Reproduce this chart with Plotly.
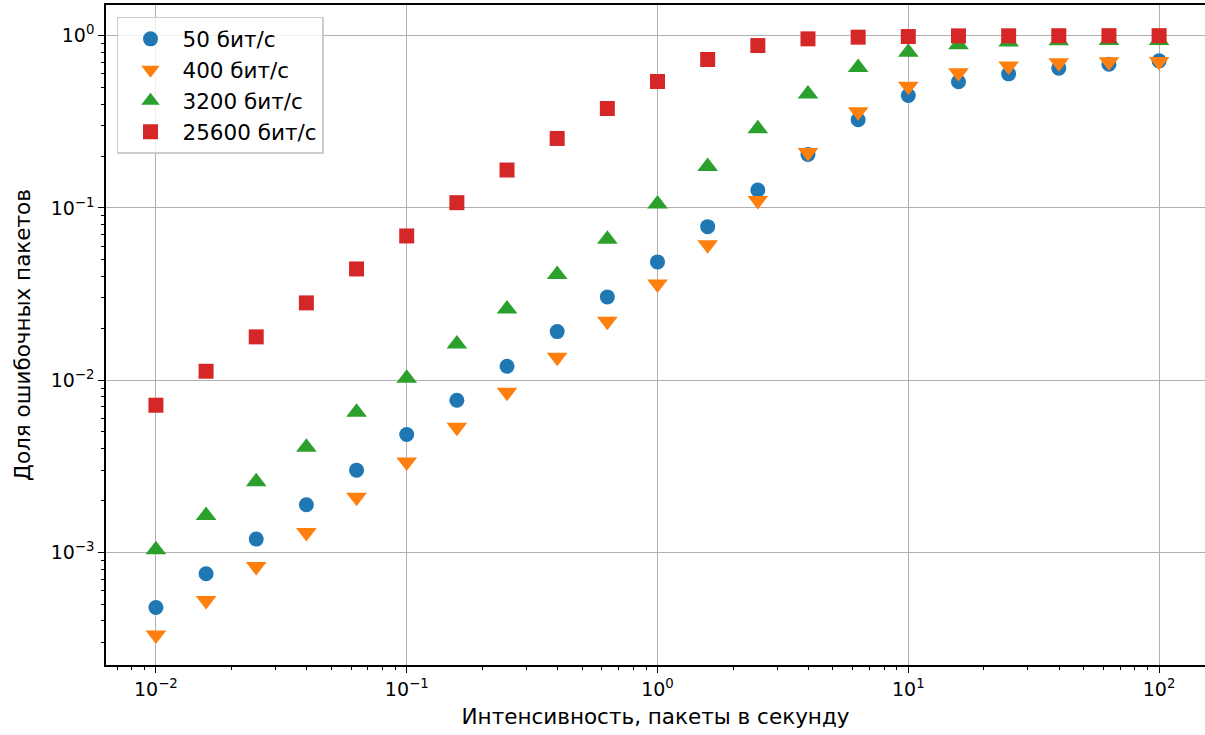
import plotly.graph_objects as go

# ---- data ----
intensity = [0.01, 0.01585, 0.02512, 0.03981, 0.0631, 0.1, 0.1585, 0.2512, 0.3981, 0.631,
             1.0, 1.585, 2.512, 3.981, 6.31, 10.0, 15.85, 25.12, 39.81, 63.1, 100.0]

err_50 = [0.000478, 0.000752, 0.001194, 0.001891, 0.003002, 0.004835, 0.007645, 0.01204,
          0.01913, 0.03042, 0.04856, 0.0778, 0.127, 0.2043, 0.3249, 0.4493, 0.5395,
          0.6003, 0.6478, 0.6834, 0.7142]
err_400 = [0.000331, 0.000525, 0.000827, 0.001306, 0.00209, 0.003349, 0.005323, 0.008494,
           0.01356, 0.02194, 0.03609, 0.06115, 0.1104, 0.2096, 0.3614, 0.5078, 0.61,
           0.6664, 0.6972, 0.7047, 0.7076]
err_3200 = [0.001034, 0.001635, 0.002574, 0.004075, 0.006503, 0.01024, 0.0162, 0.02585,
            0.04098, 0.06585, 0.1055, 0.174, 0.288, 0.4577, 0.6531, 0.8, 0.887, 0.918,
            0.935, 0.937, 0.938]
err_25600 = [0.00715, 0.01126, 0.01783, 0.02808, 0.0442, 0.0687, 0.1072, 0.1659, 0.253,
             0.3777, 0.5418, 0.7269, 0.8762, 0.9582, 0.98, 0.988, 0.997, 0.998, 0.999,
             1.0, 1.0]

series_names = ["50 бит/с", "400 бит/с", "3200 бит/с", "25600 бит/с"]

x_tickvals = [0.01, 0.1, 1, 10, 100]
x_ticktext = ["10<sup>−2</sup>", "10<sup>−1</sup>", "10<sup>0</sup>", "10<sup>1</sup>", "10<sup>2</sup>"]
y_tickvals = [0.001, 0.01, 0.1, 1]
y_ticktext = ["10<sup>−3</sup>", "10<sup>−2</sup>", "10<sup>−1</sup>", "10<sup>0</sup>"]

x_title = "Интенсивность, пакеты в секунду"
y_title = "Доля ошибочных пакетов"

# ---- styling ----
colors = ["#1f77b4", "#ff7f0e", "#2ca02c", "#d62728"]
symbols = ["circle", "triangle-down", "triangle-up", "square"]
sizes = [15, 18, 18, 15]
FONT = "DejaVu Sans"
TICK_SIZE = 19
LABEL_SIZE = 21.5

fig = go.Figure()
for name, ys, c, s, sz in zip(series_names, [err_50, err_400, err_3200, err_25600],
                              colors, symbols, sizes):
    fig.add_trace(go.Scatter(
        x=intensity, y=ys, mode="markers", name=name,
        marker=dict(color=c, symbol=s, size=sz, line=dict(width=0)),
    ))

axis_common = dict(
    type="log",
    showline=True, linecolor="black", linewidth=1.5,
    ticks="outside", ticklen=6, tickwidth=1.3, tickcolor="black",
    showgrid=True, gridcolor="#b0b0b0", gridwidth=1.4,
    zeroline=False,
    tickfont=dict(family=FONT, size=TICK_SIZE, color="black"),
    minor=dict(ticks="outside", ticklen=3.5, tickwidth=1, tickcolor="black",
               showgrid=False, dtick="D1"),
)

fig.update_layout(
    width=1205, height=735,
    margin=dict(l=106, r=0, t=5, b=70),
    paper_bgcolor="white", plot_bgcolor="white",
    font=dict(family=FONT, size=LABEL_SIZE, color="black"),
    xaxis=dict(**axis_common, range=[-2.199, 2.183], mirror=True,
               tickvals=x_tickvals, ticktext=x_ticktext,
               title=dict(text=x_title, font=dict(family=FONT, size=LABEL_SIZE), standoff=10)),
    yaxis=dict(**axis_common, range=[-3.654, 0.178],
               tickvals=y_tickvals, ticktext=y_ticktext,
               title=dict(text=y_title, font=dict(family=FONT, size=LABEL_SIZE), standoff=14)),
    legend=dict(
        x=0.010, y=0.982, xanchor="left", yanchor="top",
        bgcolor="rgba(255,255,255,0.8)", bordercolor="#cccccc", borderwidth=1.5,
        font=dict(family=FONT, size=LABEL_SIZE, color="black"),
        itemwidth=54,
    ),
    showlegend=True,
)

fig.write_html("out.html")
